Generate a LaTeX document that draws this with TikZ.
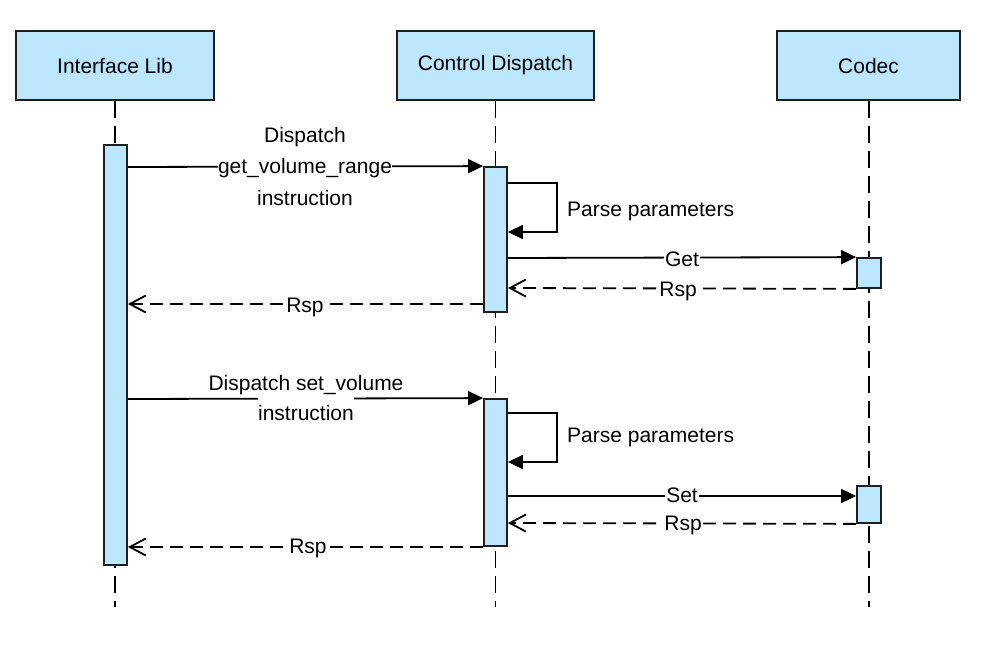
\documentclass[tikz,border=0pt]{standalone}
\usepackage{fontspec}
\setmainfont{Liberation Sans}
\usetikzlibrary{arrows.meta}
\definecolor{actfill}{RGB}{187,230,251}
\definecolor{edge}{RGB}{30,30,30}
\begin{document}
\begin{tikzpicture}[x=1pt,y=-1pt,
  font=\fontsize{21}{25}\selectfont,
  headbox/.style={draw=edge, line width=2pt, fill=actfill, minimum height=69pt, inner sep=0pt},
  actbar/.style={draw=edge, line width=1.8pt, fill=actfill, minimum width=23pt, inner sep=0pt},
  life/.style={draw=black, line width=1.8pt, dash pattern=on 17pt off 8pt},
  call/.style={draw=black, line width=1.8pt, -{Triangle[length=15pt,width=14pt]}},
  ret/.style={draw=black, line width=1.8pt, dash pattern=on 13pt off 7pt, -{Straight Barb[length=16pt,width=17pt,line width=1.8pt]}},
  lbl/.style={inner sep=0pt, anchor=base},
  onlbl/.style={lbl, fill=white, inner xsep=1pt}
]
\useasboundingbox (0,0) rectangle (1000,655);
\fill[white] (0,0) rectangle (1000,655);

% heads
\node[headbox, minimum width=198pt] (ih) at (115,65.5) {Interface Lib};
\node[headbox, minimum width=197pt] (ch) at (495.5,65.5) {Control Dispatch};
\node[headbox, minimum width=183pt] (dh) at (868.5,65.5) {Codec};

% lifelines
\coordinate (iend) at (115,607);
\coordinate (cend) at (495.5,607);
\coordinate (dend) at (869,607);
\draw[life] (ih.south) -- (iend);
\draw[life] (ch.south) -- (cend);
\draw[life] (dh.south -| dend) -- (dend);

% activation bars
\node[actbar, minimum height=420pt] (ia) at (115.5,355) {};
\node[actbar, minimum height=145pt] (cb1) at (495.5,239.5) {};
\node[actbar, minimum height=147pt] (cb2) at (495.5,472.5) {};
\node[actbar, minimum width=24pt, minimum height=30pt] (db1) at (869,273) {};
\node[actbar, minimum width=24pt, minimum height=37pt] (db2) at (869,504.5) {};

% first block
\draw[call] (ia.east |- 0,167) -- (cb1.north west);
\draw[call] (cb1.east |- 0,183) -- ++(49,0) |- (cb1.east |- 0,232);
\draw[call] (cb1.east |- 0,258) -- (db1.north west);
\draw[ret] (db1.south west) -- (cb1.east |- 0,288);
\draw[ret] (cb1.west |- 0,304) -- (ia.east |- 0,304);

% second block
\draw[call] (ia.east |- 0,399) -- (cb2.north west);
\draw[call] (cb2.east |- 0,413) -- ++(49,0) |- (cb2.east |- 0,462);
\draw[call] (cb2.east |- 0,496) -- (db2.west |- 0,496);
\draw[ret] (db2.south west) -- (cb2.east |- 0,523);
\draw[ret] (cb2.west |- 0,547) -- (ia.east |- 0,547);

% labels
\node[lbl] (l1a) at (305,143) {Dispatch};
\node[onlbl, inner xsep=0pt] (l1b) at (305,174) {get\_volume\_range};
\node[lbl] (l1c) at (305,205) {instruction};
\node[lbl, anchor=base west] (p1) at (567,216) {Parse parameters};
\node[onlbl] (g1) at (682,266) {Get};
\node[onlbl] (r1) at (678,296) {Rsp};
\node[onlbl] (r2) at (305,312) {Rsp};

\node[lbl] (l2a) at (306,390) {Dispatch set\_volume};
\node[onlbl, inner xsep=0pt, text height=23pt] (l2b) at (306,420) {instruction};
\node[lbl, anchor=base west] (p2) at (567,442) {Parse parameters};
\node[onlbl] (s2) at (682,502) {Set};
\node[onlbl] (r3) at (683,530) {Rsp};
\node[onlbl] (r4) at (308,553) {Rsp};
\end{tikzpicture}
\end{document}
